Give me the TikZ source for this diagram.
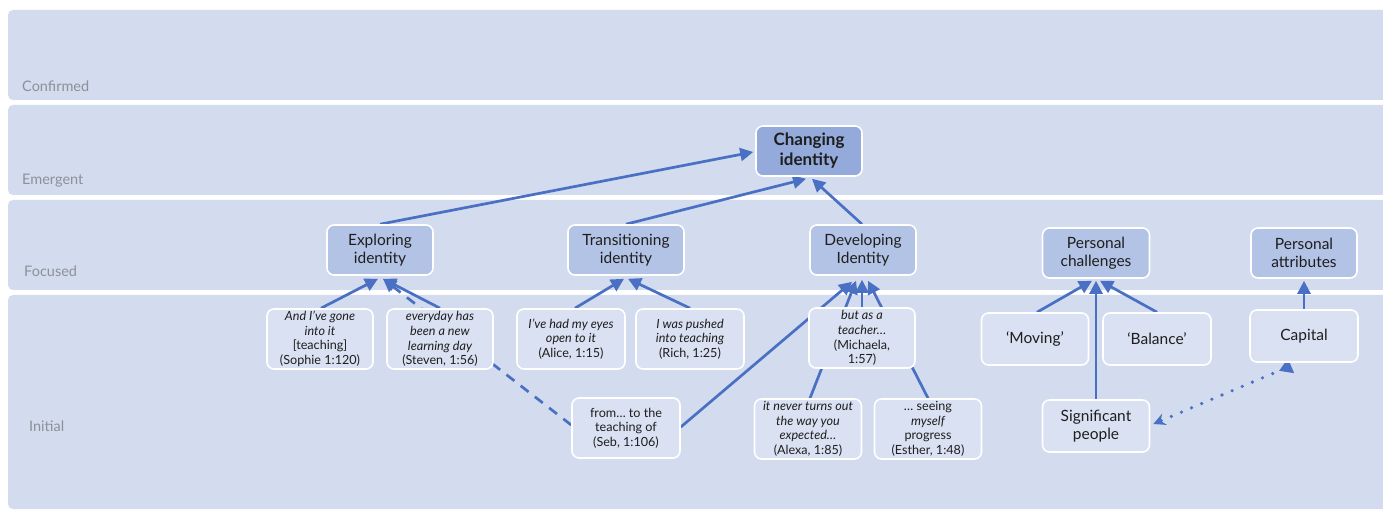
\documentclass[tikz,border=0pt]{standalone}
\usepackage{fontspec}
\setmainfont{Lato}
\usetikzlibrary{arrows.meta}
\definecolor{bandfill}{HTML}{D3DBEE}
\definecolor{leaffill}{HTML}{DAE1F2}
\definecolor{midfill}{HTML}{B3C3E5}
\definecolor{topfill}{HTML}{94AADB}
\definecolor{linkc}{HTML}{4A70C4}
\definecolor{labelc}{HTML}{8C9099}
\definecolor{textc}{HTML}{1E1E1E}
\pgfdeclarelayer{back}
\pgfdeclarelayer{links}
\pgfsetlayers{back,links,main}
\begin{document}
\begin{tikzpicture}[x=1pt,y=-1pt,
  band/.style={fill=bandfill,rounded corners=5pt},
  bandlabel/.style={anchor=base west,text=labelc,font=\fontsize{14.5}{17}\selectfont,inner sep=0pt},
  box/.style={draw=white,line width=1.6pt,rounded corners=7pt,align=center,text=textc,inner sep=0pt},
  quote/.style={box,fill=leaffill,minimum width=106pt,minimum height=60pt,font=\fontsize{12.6}{14.6}\selectfont},
  leaf/.style={box,fill=leaffill,minimum width=107pt,minimum height=52pt,font=\fontsize{15.5}{18}\selectfont},
  theme/.style={box,fill=midfill,minimum width=106pt,minimum height=50pt,font=\fontsize{15.5}{18.5}\selectfont},
  core/.style={box,fill=topfill,minimum width=106pt,minimum height=50pt,font=\bfseries\fontsize{17}{20}\selectfont},
  link/.style={draw=linkc,line width=2.7pt,-{Triangle[length=13pt,width=13pt]}},
  dashlink/.style={link,dash pattern=on 10pt off 8pt},
  dotlink/.style={draw=linkc,line width=3.6pt,line cap=round,dash pattern=on 0pt off 11pt,
    {Triangle[reversed,length=13pt,width=15pt]}-{Stealth[length=12pt,width=12pt,inset=4pt]}}
]
\useasboundingbox (0,0) rectangle (1383,510);

% level bands
\begin{pgfonlayer}{back}
  \fill[white] (0,0) rectangle (1383,510);
  \fill[band] (8,10) rectangle (1395,100);
  \fill[band] (8,105) rectangle (1395,195);
  \fill[band] (8,200) rectangle (1395,290);
  \fill[band] (8,295) rectangle (1395,509);
\end{pgfonlayer}
\node[bandlabel] (lconf) at (22,92) {Confirmed};
\node[bandlabel] (lemer) at (22,185) {Emergent};
\node[bandlabel] (lfocu) at (24,277) {Focused};
\node[bandlabel] (linit) at (29,431) {Initial};

% emergent
\node[core] (chg) at (809,151) {Changing\\identity};

% focused
\node[theme] (expl) at (380,250) {Exploring\\identity};
\node[theme,minimum width=116pt] (tran) at (626,250) {Transitioning\\identity};
\node[theme] (devl) at (863,250) {Developing\\Identity};
\node[theme,minimum width=107pt] (pchl) at (1096,253) {Personal\\challenges};
\node[theme] (patt) at (1304,253) {Personal\\attributes};

% initial: quotes
\node[quote] (soph) at (320,339) {\itshape And I’ve gone\\\itshape into it\\{}[teaching]\\(Sophie 1:120)};
\node[quote] (stev) at (440,339) {\itshape everyday has\\\itshape been a new\\\itshape learning day\\(Steven, 1:56)};
\node[quote,minimum width=108pt] (alic) at (571,339) {\itshape I’ve had my eyes\\\itshape open to it\\(Alice, 1:15)};
\node[quote,minimum width=108pt] (rich) at (690,339) {\itshape I was pushed\\\itshape into teaching\\(Rich, 1:25)};
\node[quote] (mich) at (862,338) {\itshape but as a\\\itshape teacher…\\(Michaela,\\1:57)};
\node[quote,minimum width=108pt] (seb) at (626,428) {from… to the\\teaching of\\(Seb, 1:106)};
\node[quote,minimum width=107pt] (alex) at (808,429) {\itshape it never turns out\\\itshape the way you\\\itshape expected…\\(Alexa, 1:85)};
\node[quote,minimum width=107pt] (esth) at (928,429) {… seeing\\\itshape myself\\progress\\(Esther, 1:48)};

% initial: short codes
\node[leaf] (movi) at (1035,339) {‘Moving’};
\node[leaf,minimum width=108pt] (bala) at (1157,339) {‘Balance’};
\node[leaf,minimum width=108pt] (capi) at (1304,336) {Capital};
\node[leaf] (sigp) at (1096,426) {Significant\\people};

% connectors
\begin{pgfonlayer}{links}
  \draw[link] (expl.north) -- ([xshift=-2pt,yshift=-1pt]chg.west);
  \draw[link] (tran.north) -- ([xshift=-3pt,yshift=-2pt]chg.south);
  \draw[link] ([xshift=-1pt]devl.north) -- ([xshift=3pt,yshift=-2pt]chg.south);

  \draw[link] ([xshift=1pt]soph.north) -- ([xshift=-2pt,yshift=-3pt]expl.south);
  \draw[dashlink] ([yshift=3pt]seb.west) -- ([xshift=3pt,yshift=-3pt]expl.south);
  \draw[link] (stev.north) -- ([xshift=3pt,yshift=-3pt]expl.south);

  \draw[link] ([xshift=4pt]alic.north) -- ([xshift=-2pt,yshift=-3pt]tran.south);
  \draw[link] (rich.north) -- ([xshift=2pt,yshift=-3pt]tran.south);

  \draw[link] ([yshift=1pt]seb.east) -- ([xshift=-11pt,yshift=-6pt]devl.south);
  \draw[link] ([xshift=2pt]alex.north) -- ([xshift=-7pt,yshift=-5pt]devl.south);
  \draw[link] (mich.north) -- ([xshift=-1pt,yshift=-4pt]devl.south);
  \draw[link] (esth.north) -- ([xshift=5pt,yshift=-5pt]devl.south);

  \draw[link] ([xshift=2pt]movi.north) -- ([xshift=-4pt,yshift=-2pt]pchl.south);
  \draw[link] (bala.north) -- ([xshift=4pt,yshift=-2pt]pchl.south);
  \draw[link] (sigp.north) -- ([yshift=-2pt]pchl.south);

  \draw[link] (capi.north) -- ([yshift=-2pt]patt.south);
  \draw[dotlink] ([xshift=-13pt,yshift=-3pt]capi.south) -- ([xshift=3pt,yshift=2pt]sigp.east);
\end{pgfonlayer}
\end{tikzpicture}
\end{document}
